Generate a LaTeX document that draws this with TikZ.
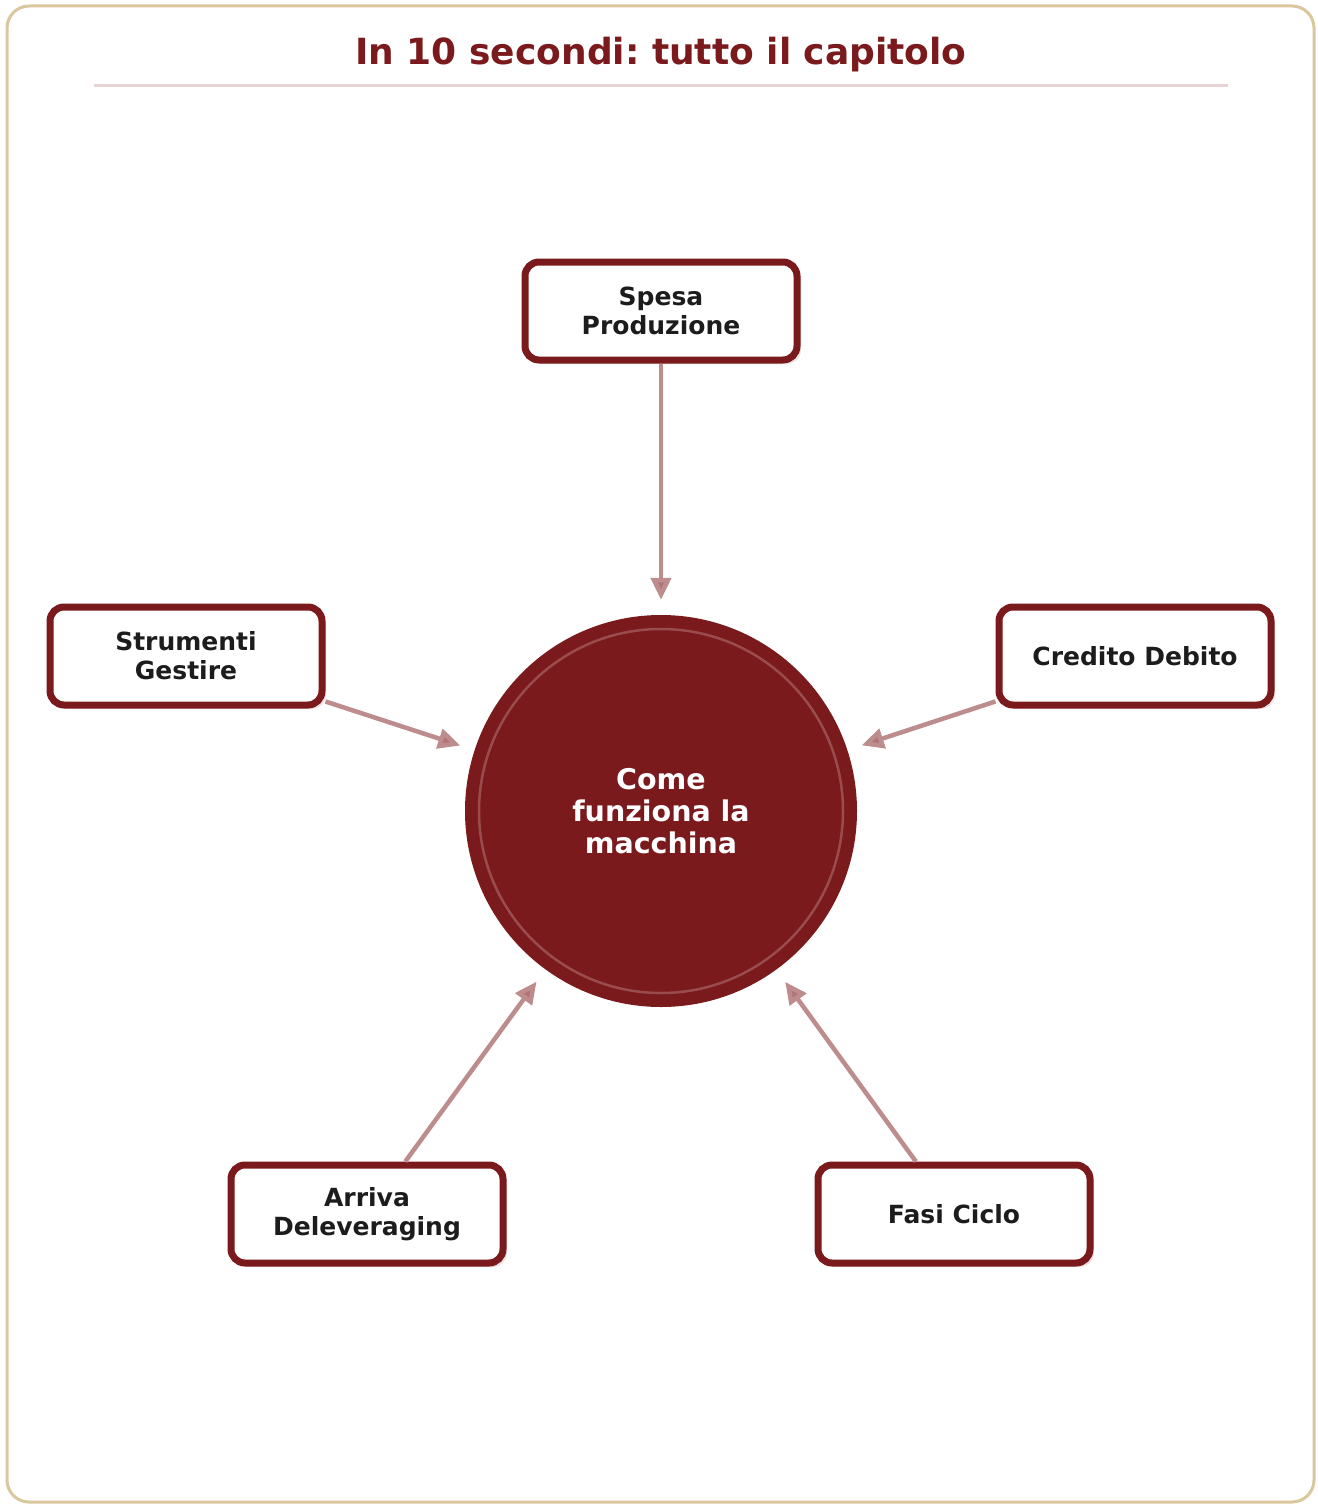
\documentclass[tikz,border=0pt]{standalone}
\usepackage{fontspec}
\setmainfont{DejaVu Sans}
\usetikzlibrary{arrows.meta,shadows}
\frenchspacing

\definecolor{wine}{HTML}{7B1A1C}
\definecolor{ink}{HTML}{1C1C1C}
\definecolor{sand}{HTML}{D9C79E}
\definecolor{blush}{HTML}{E8D2D5}

\begin{document}
\begin{tikzpicture}[x=1pt,y=-1pt,
  topic/.style={draw=wine,line width=7pt,rounded corners=14pt,fill=white,
    minimum width=272pt,minimum height=98pt,align=center,text=ink,
    font=\bfseries\fontsize{25}{29}\selectfont,
    drop shadow={shadow xshift=4pt,shadow yshift=-4pt,fill=wine!12,opacity=1}},
  hub/.style={circle,fill=wine,minimum size=392pt,inner sep=0pt,align=center,
    text=white,font=\bfseries\fontsize{28.5}{32}\selectfont},
  link/.style={draw=wine!50,line width=4.5pt,shorten >=15pt,
    -{Triangle[length=22pt,width=20pt,fill=wine!60]}}]

  \useasboundingbox (0,0) rectangle (1317,1504);
  \draw[sand,line width=3pt,rounded corners=22pt] (7,6) rectangle (1314,1502);

  % title
  \node[text=wine,font=\bfseries\fontsize{36}{40}\selectfont] (title) at (661,55) {In 10 secondi: tutto il capitolo};
  \draw[blush,line width=3pt] (94,85) -- (1228,85);

  % centre
  \node[hub] (core) at (661,811) {Come\\funziona la\\macchina};
  \draw[wine!78!white,line width=2.5pt] (core.center) circle (182pt);

  % topics
  \node[topic] (spesa) at (661,311) {Spesa\\Produzione};
  \node[topic] (strumenti) at (186,656) {Strumenti\\Gestire};
  \node[topic] (credito) at (1135,656) {Credito Debito};
  \node[topic] (arriva) at (367,1214) {Arriva\\Deleveraging};
  \node[topic] (fasi) at (954,1214) {Fasi Ciclo};

  \draw[link] (spesa) -- (core);
  \draw[link] (strumenti) -- (core);
  \draw[link] (credito) -- (core);
  \draw[link] (arriva) -- (core);
  \draw[link] (fasi) -- (core);
\end{tikzpicture}
\end{document}
